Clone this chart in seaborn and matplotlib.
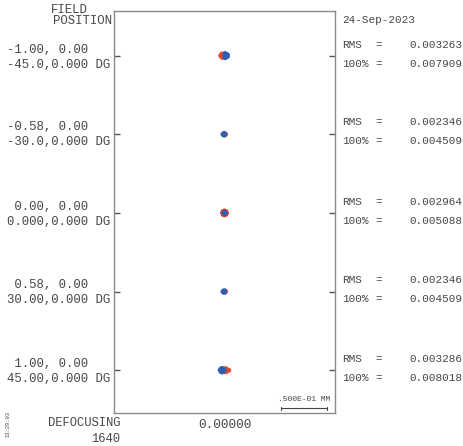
import matplotlib
matplotlib.use("Agg")
import matplotlib.pyplot as plt
import seaborn as sns
import pandas as pd

# ---------------- data ----------------
field_norm = ["-1.00, 0.00", "-0.58, 0.00", " 0.00, 0.00", " 0.58, 0.00", " 1.00, 0.00"]
field_deg = ["-45.0,0.000 DG", "-30.0,0.000 DG", "0.000,0.000 DG", "30.00,0.000 DG", "45.00,0.000 DG"]
rms_vals = ["0.003263", "0.002346", "0.002964", "0.002346", "0.003286"]
full_vals = ["0.007909", "0.004509", "0.005088", "0.004509", "0.008018"]
row_center_mm = [0.171, 0.0855, 0.0, -0.0855, -0.171]

# spot ray offsets (micrometres) per field, two wavelengths
red_dx_um = [
    [-4.5, -3.5, -3.5, -2.5, -2.5, -2.5, -1.5, -1.5, -1.5],
    [-0.5, 0.5, 1.5, 0.5, 1.0],
    [-2.5, 2.5, 0.0, 0.0, -1.8, 1.8, -1.8, 1.8],
    [-0.5, 0.5, 1.5, 0.5, 1.0],
    [0.0, 1.0, 1.0, 2.0, 2.0, 3.0, 3.0, 4.0, 5.0],
]
red_dy_um = [
    [0.0, -1.2, 1.2, -2.2, 0.0, 2.2, -1.5, 0.0, 1.5],
    [0.0, -1.0, 0.0, 1.0, 0.0],
    [0.0, 0.0, -2.5, 2.5, -1.8, -1.8, 1.8, 1.8],
    [0.0, -1.0, 0.0, 1.0, 0.0],
    [0.0, -2.0, 2.0, -1.5, 1.5, -1.0, 1.0, 0.0, 0.0],
]
blue_dx_um = [
    [-0.5, 0.5, 0.5, 1.5, 1.5, 1.5, 2.5, 2.5, 3.5, 3.5],
    [-2.0, -1.0, -1.0, 0.0, 0.0, 0.5],
    [-1.2, 1.2, 0.0, 0.0, 0.0],
    [-2.0, -1.0, -1.0, 0.0, 0.0, 0.5],
    [-5.0, -4.0, -4.0, -3.0, -3.0, -2.0, -2.0, -1.0, -1.0, 0.0],
]
blue_dy_um = [
    [0.0, -2.5, 2.5, -2.0, 0.0, 2.0, -1.5, 1.5, -0.8, 0.8],
    [0.0, -1.0, 1.0, -1.0, 1.0, 0.0],
    [0.0, 0.0, -1.2, 1.2, 0.0],
    [0.0, -1.0, 1.0, -1.0, 1.0, 0.0],
    [0.0, -1.5, 1.5, -2.2, 2.2, -2.0, 2.0, -1.0, 1.0, 0.0],
]

date_text = "24-Sep-2023"
defocus_text = "1640"
time_text = "13:29:03"
scale_bar_mm = 0.05
scale_label = ".500E-01 MM"

# ---------------- build table ----------------
rows = []
for i, yc in enumerate(row_center_mm):
    for dx, dy in zip(red_dx_um[i], red_dy_um[i]):
        rows.append({"x": dx / 1000.0, "y": yc + dy / 1000.0, "wl": "red", "field": i})
    for dx, dy in zip(blue_dx_um[i], blue_dy_um[i]):
        rows.append({"x": dx / 1000.0, "y": yc + dy / 1000.0, "wl": "blue", "field": i})
df = pd.DataFrame(rows)

sns.set_style("white")
plt.rcParams["font.family"] = ["Liberation Mono", "DejaVu Sans Mono"]
TXT = "#474747"

W, H = 463, 446
fig = plt.figure(figsize=(W / 100, H / 100), dpi=100)
ax = fig.add_axes([114 / W, 33 / H, 221 / W, 402 / H])

sns.scatterplot(data=df, x="x", y="y", hue="wl",
                palette={"red": "#e2492b", "blue": "#2c5fb4"},
                hue_order=["red", "blue"], s=10, linewidth=0,
                legend=False, ax=ax)

ax.set_xlim(-0.12, 0.12)
ax.set_ylim(-0.2175, 0.2195)
ax.set_xlabel("")
ax.set_ylabel("")
ax.set_xticks([0.0])
ax.set_xticklabels(["0.00000"], fontsize=9.2, color=TXT)
ax.set_yticks(row_center_mm)
ax.tick_params(axis="x", direction="in", length=4, width=1, color="#555555", pad=4)
ax.tick_params(axis="y", direction="in", length=4, width=1, color="#555555",
               left=True, right=True, labelleft=False, labelright=False)
for sp in ax.spines.values():
    sp.set_color("#8a8a8a")
    sp.set_linewidth(1.0)

# scale bar
x1 = ax.get_xlim()[1] - 0.0086
x0 = x1 - scale_bar_mm
yb = -0.2125
ax.plot([x0, x1], [yb, yb], color="#444444", lw=0.8)
ax.plot([x0, x0], [yb - 0.0017, yb + 0.0017], color="#444444", lw=0.8)
ax.plot([x1, x1], [yb - 0.0017, yb + 0.0017], color="#444444", lw=0.8)
ax.text((x0 + x1) / 2, yb + 0.0095, scale_label, ha="center", va="center",
        fontsize=5.8, color=TXT)


def ft(x, y, s, **kw):
    fig.text(x / W, 1 - y / H, s, color=TXT, va="center", **kw)


ft(88, 10, "FIELD", ha="right", fontsize=8.9)
ft(112, 21, "POSITION", ha="right", fontsize=8.9)

row_px = [56, 133, 213, 291, 370]
for i, yp in enumerate(row_px):
    ft(7, yp - 6, field_norm[i], ha="left", fontsize=8.9)
    ft(7, yp + 9, field_deg[i], ha="left", fontsize=8.9)
    ft(342, yp - 11, "RMS", ha="left", fontsize=7.9)
    ft(375, yp - 11, "=", ha="left", fontsize=7.9)
    ft(462, yp - 11, rms_vals[i], ha="right", fontsize=7.9)
    ft(342, yp + 8, "100%", ha="left", fontsize=7.9)
    ft(375, yp + 8, "=", ha="left", fontsize=7.9)
    ft(462, yp + 8, full_vals[i], ha="right", fontsize=7.9)

ft(342, 20, date_text, ha="left", fontsize=7.9)
ft(120, 423, "DEFOCUSING", ha="right", fontsize=8.7)
ft(120, 439, defocus_text, ha="right", fontsize=8.7)
ft(8, 424, time_text, ha="center", fontsize=4, rotation=90)

fig.savefig("out.png", dpi=100)
